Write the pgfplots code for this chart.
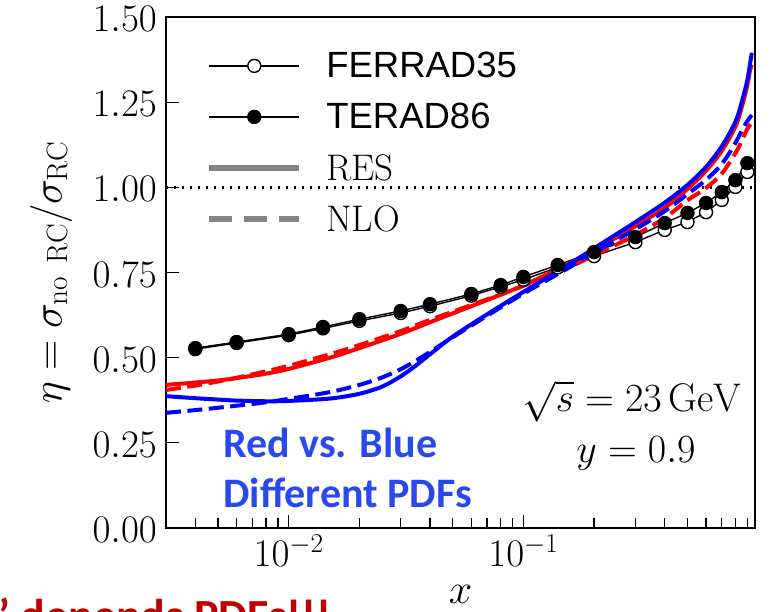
\RequirePackage{fix-cm}
\documentclass[border=0pt]{standalone}
\usepackage{fontspec}
\usepackage{pgfplots}
\pgfplotsset{compat=1.18}
\newfontfamily\legsans{Liberation Sans}
\newfontfamily\carlito{Carlito}
\definecolor{txtblue}{HTML}{2A48F0}
\definecolor{txtred}{HTML}{C00000}
\definecolor{leggray}{HTML}{858585}
\begin{document}
\begin{tikzpicture}[x=1bp,y=1bp]
\useasboundingbox (0,0) rectangle (782,612);
\clip (0,0) rectangle (782,612);
\begin{axis}[
  at={(166bp,84bp)}, anchor=south west,
  scale only axis, width=589bp, height=511bp,
  xmode=log, xmin=0.003, xmax=0.97,
  ymin=0, ymax=1.5,
  ytick={0,0.25,0.5,0.75,1,1.25,1.5},
  xtick={0.01,0.1},
  minor xtick={0.003,0.004,0.005,0.006,0.007,0.008,0.009,0.02,0.03,0.04,0.05,0.06,0.07,0.08,0.09,0.2,0.3,0.4,0.5,0.6,0.7,0.8,0.9},
  yticklabel style={/pgf/number format/fixed,/pgf/number format/fixed zerofill,/pgf/number format/precision=2, anchor=east, inner sep=0pt, xshift=-9bp, yshift=-2bp},
  xticklabel style={anchor=north, inner sep=0pt, yshift=-7bp},
  tick label style={font=\fontsize{39bp}{46bp}\selectfont},
  tick align=inside, tick pos=left,
  major tick length=13bp, minor tick length=10bp,
  every tick/.style={black, line width=1.2bp},
  axis line style={line width=1.6bp},
  xlabel={$x$}, ylabel={$\eta = \sigma_{\mathrm{no\ RC}}/\sigma_{\mathrm{RC}}$},
  every axis x label/.style={at={(axis description cs:0.5,-0.131)}, anchor=center, font=\fontsize{42bp}{50bp}\selectfont},
  every axis y label/.style={at={(axis description cs:-0.195,0.5)}, rotate=90, anchor=center, font=\fontsize{42bp}{50bp}\selectfont},
  legend style={draw=none, fill=none, at={(axis description cs:0.063,0.935)}, anchor=north west,
    font=\fontsize{37bp}{44bp}\selectfont, row sep=24bp, column sep=24bp,
    nodes={inner sep=0pt}},
  legend cell align=left,
  legend image code/.code={\draw[mark repeat=2,mark phase=2,#1] plot coordinates {(0bp,0bp) (45bp,0bp) (90bp,0bp)};},
]
\addplot[black, line width=1.4bp, mark=*, mark size=6.5bp, mark options={fill=white, line width=1.4bp}] coordinates {
(0.004,0.525) (0.006,0.543) (0.01,0.566) (0.014,0.586) (0.02,0.608) (0.03,0.631) (0.04,0.651) (0.06,0.682) (0.08,0.708) (0.1,0.729) (0.14,0.765) (0.2,0.798) (0.3,0.839) (0.4,0.875) (0.5,0.898) (0.6,0.927) (0.7,0.963) (0.8,1.001) (0.9,1.045)};
\addlegendentry{\legsans\fontsize{36.5bp}{44bp}\selectfont FERRAD35}
\addplot[black, line width=1.4bp, mark=*, mark size=6.5bp, mark options={fill=black, line width=1.4bp}] coordinates {
(0.004,0.528) (0.006,0.546) (0.01,0.569) (0.014,0.590) (0.02,0.613) (0.03,0.637) (0.04,0.657) (0.06,0.687) (0.08,0.713) (0.1,0.737) (0.14,0.772) (0.2,0.810) (0.3,0.854) (0.4,0.895) (0.5,0.925) (0.6,0.954) (0.7,0.986) (0.8,1.021) (0.9,1.071)};
\addlegendentry{\legsans\fontsize{36.5bp}{44bp}\selectfont TERAD86}
\addlegendimage{leggray, line width=6bp}
\addlegendentry{RES}
\addlegendimage{leggray, line width=6bp, dash pattern=on 23bp off 12bp}
\addlegendentry{NLO}
% dotted reference line
\addplot[black, line width=2.4bp, dash pattern=on 2.4bp off 5.6bp, forget plot] coordinates {(0.003,1) (0.97,1)};
% red RES
\addplot[red, line width=4bp, smooth, forget plot] coordinates {
(0.003,0.420) (0.004,0.427) (0.005,0.433) (0.006,0.440) (0.008,0.453) (0.01,0.467) (0.015,0.500) (0.02,0.528) (0.03,0.570) (0.04,0.604) (0.05,0.630) (0.07,0.669) (0.1,0.712) (0.15,0.770) (0.2,0.815) (0.3,0.886) (0.4,0.940) (0.5,0.995) (0.6,1.049) (0.7,1.107) (0.8,1.178) (0.85,1.233) (0.9,1.300) (0.925,1.345) (0.94,1.36)};
% red NLO
\addplot[red, line width=4bp, smooth, dash pattern=on 15bp off 6.5bp, forget plot] coordinates {
(0.003,0.405) (0.004,0.418) (0.005,0.430) (0.006,0.441) (0.008,0.460) (0.01,0.476) (0.015,0.510) (0.02,0.537) (0.03,0.578) (0.04,0.611) (0.05,0.635) (0.07,0.671) (0.1,0.711) (0.15,0.760) (0.2,0.800) (0.3,0.860) (0.4,0.910) (0.5,0.962) (0.6,0.998) (0.7,1.040) (0.8,1.100) (0.85,1.135) (0.9,1.172) (0.94,1.19)};
% blue RES
\addplot[blue, line width=4bp, smooth, forget plot] coordinates {
(0.003,0.387) (0.004,0.381) (0.005,0.377) (0.006,0.374) (0.008,0.372) (0.01,0.373) (0.015,0.380) (0.02,0.394) (0.025,0.415) (0.03,0.445) (0.035,0.478) (0.04,0.510) (0.05,0.562) (0.07,0.627) (0.1,0.693) (0.15,0.766) (0.2,0.821) (0.3,0.898) (0.4,0.955) (0.5,1.007) (0.6,1.060) (0.7,1.120) (0.8,1.192) (0.85,1.248) (0.9,1.315) (0.925,1.365) (0.94,1.395)};
% blue NLO
\addplot[blue, line width=4bp, smooth, dash pattern=on 15bp off 6.5bp, forget plot] coordinates {
(0.003,0.338) (0.004,0.346) (0.005,0.353) (0.006,0.359) (0.008,0.369) (0.01,0.379) (0.015,0.399) (0.02,0.420) (0.025,0.442) (0.03,0.466) (0.035,0.492) (0.04,0.517) (0.05,0.560) (0.07,0.623) (0.1,0.688) (0.15,0.757) (0.2,0.808) (0.3,0.877) (0.4,0.930) (0.5,0.980) (0.6,1.022) (0.7,1.068) (0.8,1.130) (0.85,1.165) (0.9,1.195) (0.94,1.212)};
\node[anchor=base, font=\fontsize{40bp}{46bp}\selectfont, inner sep=0pt] at (axis description cs:0.791,0.227) {$\sqrt{s} = 23\,\mathrm{GeV}$};
\node[anchor=base, font=\fontsize{40bp}{46bp}\selectfont, inner sep=0pt] at (axis description cs:0.798,0.129) {$y = 0.9$};
\node[anchor=base west, font=\carlito\bfseries\fontsize{42bp}{48bp}\selectfont, text=txtblue, inner sep=0pt] at (axis description cs:0.0968,0.137) {Red vs. Blue};
\node[anchor=base west, font=\carlito\bfseries\fontsize{42bp}{48bp}\selectfont, text=txtblue, inner sep=0pt] at (axis description cs:0.0968,0.041) {Different PDFs};
\end{axis}
\node[anchor=base west, font=\carlito\bfseries\fontsize{46bp}{50bp}\selectfont, text=txtred, inner sep=0pt] at (-2,-20) {’ depends PDFs!!!};
\end{tikzpicture}
\end{document}
